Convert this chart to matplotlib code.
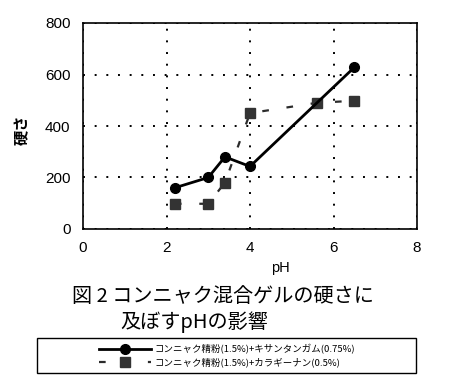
import matplotlib
matplotlib.use("Agg")
import matplotlib.pyplot as plt
from matplotlib.patches import Rectangle

plt.rcParams['font.family'] = ['Noto Sans CJK JP', 'DejaVu Sans']

ph_xanthan = [2.2, 3.0, 3.4, 4.0, 6.5]
hard_xanthan = [160, 200, 280, 243, 628]
ph_carra = [2.2, 3.0, 3.4, 4.0, 5.6, 6.5]
hard_carra = [98, 98, 180, 450, 490, 498]
label_xanthan = "コンニャク精粉(1.5%)+キサンタンガム(0.75%)"
label_carra = "コンニャク精粉(1.5%)+カラギーナン(0.5%)"
xticks = [0, 2, 4, 6, 8]
yticks = [0, 200, 400, 600, 800]

fig = plt.figure(figsize=(4.57, 3.92), dpi=100)
ax = fig.add_axes([83/457, 1-229/392, (417-83)/457, (229-23)/392])

l1, = ax.plot(ph_xanthan, hard_xanthan, color='black', lw=2.0, marker='o',
              markersize=7, zorder=4)
l2, = ax.plot(ph_carra, hard_carra, color='#2b2b2b', lw=1.6,
              linestyle=(0, (3, 8)), marker='s', markersize=6.5,
              markerfacecolor='#333333', markeredgecolor='#333333', zorder=3)

ax.set_xlim(0, 8)
ax.set_ylim(0, 800)
ax.set_xticks(xticks)
ax.set_yticks(yticks)
ax.tick_params(length=0, labelsize=11)
ax.tick_params(axis='x', pad=9)
ax.tick_params(axis='y', pad=9)
for lab in ax.get_xticklabels() + ax.get_yticklabels():
    lab.set_fontfamily('Liberation Sans')
ax.grid(True, color='black', linestyle=(0, (1, 5)), lw=1.4)
for s in ax.spines.values():
    s.set_linewidth(1.2)
    s.set_color('black')

fig.text(22/457, 1-130/392, "硬さ", rotation=90, ha='center', va='center',
         fontsize=11, fontweight='bold')
fig.text(280/457, 1-268/392, "pH", ha='center', va='center', fontsize=10.5,
         family='Liberation Sans')
fig.text(72/457, 1-297/392, "図 2 コンニャク混合ゲルの硬さに", ha='left',
         va='center', fontsize=14.5)
fig.text(120/457, 1-322/392, "及ぼすpHの影響", ha='left', va='center',
         fontsize=14.5)

fig.patches.append(Rectangle((37/457, 1-373/392), (416-37)/457, (373-338)/392,
                             transform=fig.transFigure, fill=False,
                             edgecolor='black', lw=1.0))
fig.legend([l1, l2], [label_xanthan, label_carra], loc='center',
           bbox_to_anchor=(227/457, 1-355.5/392), frameon=False,
           fontsize=6.8, handlelength=5.5, handletextpad=0.3,
           labelspacing=0.35, borderpad=0.1)

fig.savefig("out.png", dpi=100)
